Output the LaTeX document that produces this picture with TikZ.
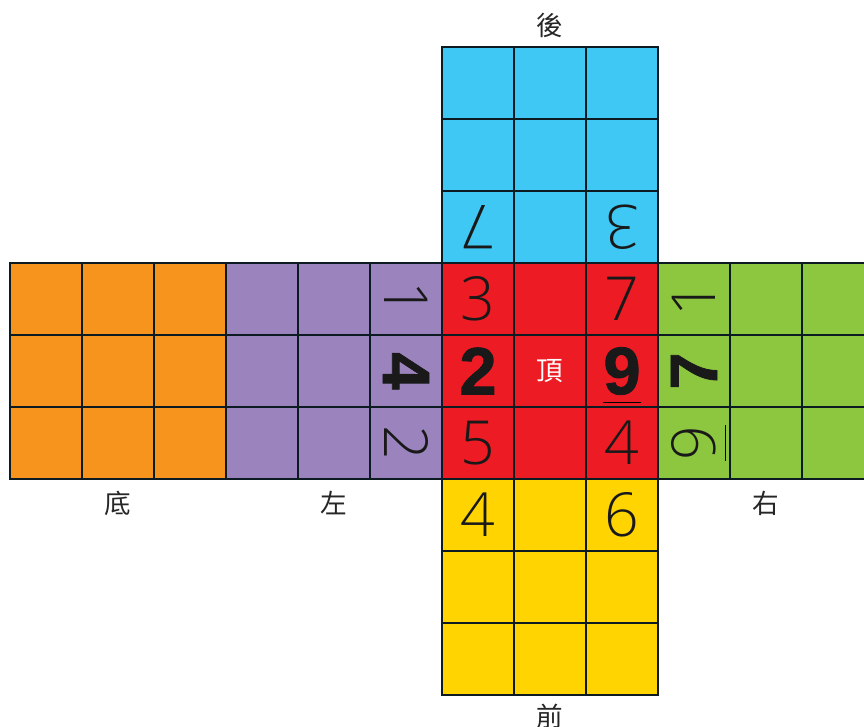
\documentclass[tikz,border=0pt]{standalone}
\usepackage{fontspec}
\setmainfont{Liberation Sans}
\newfontfamily\lightnum{Open Sans Light}
\newfontfamily\heavynum{Liberation Sans Bold}[FakeBold=1.2]
\newfontfamily\cjk{Noto Sans CJK TC}
\usepackage{xcolor}
\usepackage{tikz}
\usetikzlibrary{positioning}

\definecolor{edgeblk}{HTML}{0C1A22}
\definecolor{cBlue}{HTML}{40C8F4}
\definecolor{cOrange}{HTML}{F7941D}
\definecolor{cPurple}{HTML}{9B84BD}
\definecolor{cRed}{HTML}{ED1C24}
\definecolor{cGreen}{HTML}{8DC63F}
\definecolor{cYellow}{HTML}{FFD400}

\begin{document}
\begin{tikzpicture}[
          cell/.style={draw=edgeblk, line width=1.15pt, minimum size=1cm, inner sep=0pt, outer sep=0pt},
          num/.style={inner sep=0pt, text=black!90, font=\lightnum\fontsize{24}{24}\selectfont},
          bnum/.style={num, font=\heavynum\fontsize{26.5}{26.5}\selectfont},
          facename/.style={inner sep=0pt, text=black!85, font=\cjk\fontsize{10.5}{12}\selectfont}
        ]
          \useasboundingbox (-0.139,-0.431) rectangle (11.861,9.653);
          \clip (-0.139,-0.431) rectangle (11.861,9.653);
          % six faces of the cube, 3x3 each
          \foreach \f/\c/\x/\y in {bot/cOrange/0/3, lft/cPurple/3/3, top/cRed/6/3,
                                   rgt/cGreen/9/3, bak/cBlue/6/6, frt/cYellow/6/0}
            \foreach \i in {0,1,2}
              \foreach \j in {0,1,2}
                \node[cell, fill=\c] (\f-\i-\j) at (\x+\i+0.5,\y+\j+0.5) {};

          % back
          \node[num, rotate=180] at (bak-0-0) {7};
          \node[num, rotate=180] at (bak-2-0) {3};
          % left
          \node[num, rotate=-90] at (lft-2-2) {1};
          \node[bnum, rotate=-90] at (lft-2-1) {4};
          \node[num, rotate=-90] at (lft-2-0) {2};
          % top
          \node[num] at (top-0-2) {3};
          \node[num] at (top-2-2) {7};
          \node[bnum] at (top-0-1) {2};
          \node[facename, text=white] at (top-1-1) {頂};
          \node[bnum] (t9) at (top-2-1) {9};
          \node[num] at (top-0-0) {5};
          \node[num] at (top-2-0) {4};
          \draw[line width=0.6pt] ([yshift=-2.8pt]t9.south west) -- ([yshift=-2.8pt]t9.south east);
          % right
          \node[num, rotate=90] at (rgt-0-2) {1};
          \node[bnum, rotate=90] at (rgt-0-1) {7};
          \node[num, rotate=90] (r9) at (rgt-0-0) {9};
          \draw[line width=0.6pt] ([xshift=3.5pt]r9.south west) -- ([xshift=3.5pt]r9.south east);
          % front
          \node[num] at (frt-0-2) {4};
          \node[num] at (frt-2-2) {6};

          % face names
          \node[facename, above=1.2mm of bak-1-2] {後};
          \node[facename, below=1.2mm of frt-1-0] {前};
          \node[facename, below=1.6mm of bot-1-0] {底};
          \node[facename, below=1.6mm of lft-1-0] {左};
          \node[facename, below=1.6mm of rgt-1-0] {右};
        \end{tikzpicture}
\end{document}
